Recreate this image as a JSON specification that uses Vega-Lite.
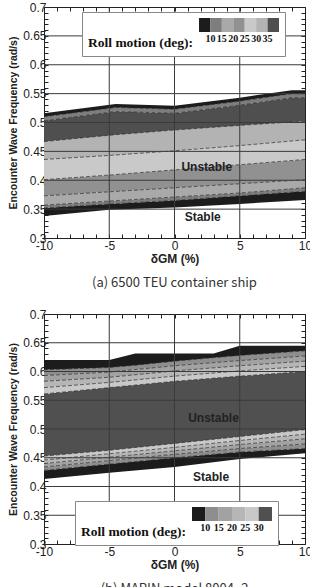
{
  "$schema": "https://vega.github.io/schema/vega-lite/v6.json",
  "padding": {"left": 8, "top": 1, "right": 0, "bottom": 0},
  "spacing": 18,
  "config": {
    "view": {"stroke": null},
    "axis": {"labelFont": "Liberation Sans", "labelFontSize": 12, "labelColor": "#222", "tickColor": "#222", "domainColor": "#222", "tickSize": -4, "grid": false, "zindex": 1, "labelFlush": false, "labelOverlap": false, "labelBound": false, "titleFont": "Liberation Sans", "titleFontWeight": "bold", "titleColor": "#222"},
    "legend": {"type": "gradient", "direction": "horizontal", "orient": "none", "titleOrient": "left", "titleAnchor": "start", "titleBaseline": "top", "titleLineHeight": 18, "titleFont": "Liberation Serif", "titleFontSize": 13.5, "titleFontWeight": "bold", "titleColor": "#111", "titlePadding": 6, "gradientLength": 80, "gradientThickness": 14, "gradientStrokeWidth": 0, "labelFont": "Liberation Serif", "labelFontSize": 10, "labelFontWeight": "bold", "labelColor": "#111", "labelOffset": 3, "padding": 6, "fillColor": "white", "strokeColor": "#888", "zindex": 2},
    "title": {"font": "Noto Sans CJK KR", "fontSize": 13, "fontWeight": "normal", "color": "#333", "orient": "bottom", "frame": "group", "offset": 13}
  },
  "resolve": {"scale": {"color": "independent"}, "legend": {"color": "independent"}},
  "datasets": {
    "bandA": [
      {"band": "a0", "roll": 5, "x": -10, "lo": 0.338, "hi": 0.352}, {"band": "a0", "roll": 5, "x": -5, "lo": 0.349, "hi": 0.359}, {"band": "a0", "roll": 5, "x": 0, "lo": 0.353, "hi": 0.365}, {"band": "a0", "roll": 5, "x": 5, "lo": 0.359, "hi": 0.373}, {"band": "a0", "roll": 5, "x": 10, "lo": 0.366, "hi": 0.381},
      {"band": "a1", "roll": 12, "x": -10, "lo": 0.352, "hi": 0.357}, {"band": "a1", "roll": 12, "x": -5, "lo": 0.359, "hi": 0.364}, {"band": "a1", "roll": 12, "x": 0, "lo": 0.365, "hi": 0.371}, {"band": "a1", "roll": 12, "x": 5, "lo": 0.373, "hi": 0.378}, {"band": "a1", "roll": 12, "x": 10, "lo": 0.381, "hi": 0.387},
      {"band": "a2", "roll": 17, "x": -10, "lo": 0.357, "hi": 0.373}, {"band": "a2", "roll": 17, "x": -5, "lo": 0.364, "hi": 0.380}, {"band": "a2", "roll": 17, "x": 0, "lo": 0.371, "hi": 0.387}, {"band": "a2", "roll": 17, "x": 5, "lo": 0.378, "hi": 0.394}, {"band": "a2", "roll": 17, "x": 10, "lo": 0.387, "hi": 0.401},
      {"band": "a3", "roll": 22, "x": -10, "lo": 0.373, "hi": 0.401}, {"band": "a3", "roll": 22, "x": -5, "lo": 0.380, "hi": 0.409}, {"band": "a3", "roll": 22, "x": 0, "lo": 0.387, "hi": 0.418}, {"band": "a3", "roll": 22, "x": 5, "lo": 0.394, "hi": 0.427}, {"band": "a3", "roll": 22, "x": 10, "lo": 0.401, "hi": 0.436},
      {"band": "a4", "roll": 27, "x": -10, "lo": 0.401, "hi": 0.436}, {"band": "a4", "roll": 27, "x": -5, "lo": 0.409, "hi": 0.443}, {"band": "a4", "roll": 27, "x": 0, "lo": 0.418, "hi": 0.451}, {"band": "a4", "roll": 27, "x": 5, "lo": 0.427, "hi": 0.460}, {"band": "a4", "roll": 27, "x": 10, "lo": 0.436, "hi": 0.470},
      {"band": "a5", "roll": 32, "x": -10, "lo": 0.436, "hi": 0.467}, {"band": "a5", "roll": 32, "x": -5, "lo": 0.443, "hi": 0.478}, {"band": "a5", "roll": 32, "x": 0, "lo": 0.451, "hi": 0.487}, {"band": "a5", "roll": 32, "x": 5, "lo": 0.460, "hi": 0.495}, {"band": "a5", "roll": 32, "x": 10, "lo": 0.470, "hi": 0.502},
      {"band": "a6", "roll": 40, "x": -10, "lo": 0.467, "hi": 0.503}, {"band": "a6", "roll": 40, "x": -4.5, "lo": 0.479, "hi": 0.519}, {"band": "a6", "roll": 40, "x": 0, "lo": 0.487, "hi": 0.516}, {"band": "a6", "roll": 40, "x": 5, "lo": 0.495, "hi": 0.530}, {"band": "a6", "roll": 40, "x": 9, "lo": 0.501, "hi": 0.543}, {"band": "a6", "roll": 40, "x": 10, "lo": 0.502, "hi": 0.543},
      {"band": "a7", "roll": 12, "x": -10, "lo": 0.503, "hi": 0.510}, {"band": "a7", "roll": 12, "x": -4.5, "lo": 0.519, "hi": 0.526}, {"band": "a7", "roll": 12, "x": 0, "lo": 0.516, "hi": 0.523}, {"band": "a7", "roll": 12, "x": 5, "lo": 0.530, "hi": 0.537}, {"band": "a7", "roll": 12, "x": 9, "lo": 0.543, "hi": 0.550}, {"band": "a7", "roll": 12, "x": 10, "lo": 0.543, "hi": 0.550},
      {"band": "a8", "roll": 5, "x": -10, "lo": 0.510, "hi": 0.516}, {"band": "a8", "roll": 5, "x": -4.5, "lo": 0.526, "hi": 0.532}, {"band": "a8", "roll": 5, "x": 0, "lo": 0.523, "hi": 0.529}, {"band": "a8", "roll": 5, "x": 5, "lo": 0.537, "hi": 0.543}, {"band": "a8", "roll": 5, "x": 9, "lo": 0.550, "hi": 0.556}, {"band": "a8", "roll": 5, "x": 10, "lo": 0.550, "hi": 0.556}
    ],
    "bandB": [
      {"band": "b0", "roll": 5, "x": -10, "lo": 0.413, "hi": 0.428}, {"band": "b0", "roll": 5, "x": -5, "lo": 0.424, "hi": 0.439}, {"band": "b0", "roll": 5, "x": 0, "lo": 0.434, "hi": 0.450}, {"band": "b0", "roll": 5, "x": 5, "lo": 0.448, "hi": 0.460}, {"band": "b0", "roll": 5, "x": 10, "lo": 0.458, "hi": 0.466},
      {"band": "b1", "roll": 12, "x": -10, "lo": 0.428, "hi": 0.434}, {"band": "b1", "roll": 12, "x": -5, "lo": 0.439, "hi": 0.445}, {"band": "b1", "roll": 12, "x": 0, "lo": 0.450, "hi": 0.456}, {"band": "b1", "roll": 12, "x": 5, "lo": 0.460, "hi": 0.466}, {"band": "b1", "roll": 12, "x": 10, "lo": 0.466, "hi": 0.474},
      {"band": "b2", "roll": 17, "x": -10, "lo": 0.434, "hi": 0.440}, {"band": "b2", "roll": 17, "x": -5, "lo": 0.445, "hi": 0.451}, {"band": "b2", "roll": 17, "x": 0, "lo": 0.456, "hi": 0.462}, {"band": "b2", "roll": 17, "x": 5, "lo": 0.466, "hi": 0.473}, {"band": "b2", "roll": 17, "x": 10, "lo": 0.474, "hi": 0.483},
      {"band": "b3", "roll": 22, "x": -10, "lo": 0.440, "hi": 0.446}, {"band": "b3", "roll": 22, "x": -5, "lo": 0.451, "hi": 0.457}, {"band": "b3", "roll": 22, "x": 0, "lo": 0.462, "hi": 0.468}, {"band": "b3", "roll": 22, "x": 5, "lo": 0.473, "hi": 0.480}, {"band": "b3", "roll": 22, "x": 10, "lo": 0.483, "hi": 0.491},
      {"band": "b4", "roll": 27, "x": -10, "lo": 0.446, "hi": 0.453}, {"band": "b4", "roll": 27, "x": -5, "lo": 0.457, "hi": 0.463}, {"band": "b4", "roll": 27, "x": 0, "lo": 0.468, "hi": 0.475}, {"band": "b4", "roll": 27, "x": 5, "lo": 0.480, "hi": 0.487}, {"band": "b4", "roll": 27, "x": 10, "lo": 0.491, "hi": 0.499},
      {"band": "b5", "roll": 40, "x": -10, "lo": 0.453, "hi": 0.561}, {"band": "b5", "roll": 40, "x": -5, "lo": 0.463, "hi": 0.572}, {"band": "b5", "roll": 40, "x": 0, "lo": 0.475, "hi": 0.583}, {"band": "b5", "roll": 40, "x": 5, "lo": 0.487, "hi": 0.592}, {"band": "b5", "roll": 40, "x": 10, "lo": 0.499, "hi": 0.600},
      {"band": "b6", "roll": 27, "x": -10, "lo": 0.561, "hi": 0.572}, {"band": "b6", "roll": 27, "x": -5, "lo": 0.572, "hi": 0.581}, {"band": "b6", "roll": 27, "x": 0, "lo": 0.583, "hi": 0.592}, {"band": "b6", "roll": 27, "x": 5, "lo": 0.592, "hi": 0.601}, {"band": "b6", "roll": 27, "x": 10, "lo": 0.600, "hi": 0.609},
      {"band": "b7", "roll": 22, "x": -10, "lo": 0.572, "hi": 0.583}, {"band": "b7", "roll": 22, "x": -5, "lo": 0.581, "hi": 0.590}, {"band": "b7", "roll": 22, "x": 0, "lo": 0.592, "hi": 0.601}, {"band": "b7", "roll": 22, "x": 5, "lo": 0.601, "hi": 0.610}, {"band": "b7", "roll": 22, "x": 10, "lo": 0.609, "hi": 0.618},
      {"band": "b8", "roll": 17, "x": -10, "lo": 0.583, "hi": 0.593}, {"band": "b8", "roll": 17, "x": -5, "lo": 0.590, "hi": 0.599}, {"band": "b8", "roll": 17, "x": 0, "lo": 0.601, "hi": 0.610}, {"band": "b8", "roll": 17, "x": 5, "lo": 0.610, "hi": 0.619}, {"band": "b8", "roll": 17, "x": 10, "lo": 0.618, "hi": 0.627},
      {"band": "b9", "roll": 12, "x": -10, "lo": 0.593, "hi": 0.603}, {"band": "b9", "roll": 12, "x": -5, "lo": 0.599, "hi": 0.607}, {"band": "b9", "roll": 12, "x": 0, "lo": 0.610, "hi": 0.618}, {"band": "b9", "roll": 12, "x": 5, "lo": 0.619, "hi": 0.628}, {"band": "b9", "roll": 12, "x": 10, "lo": 0.627, "hi": 0.636},
      {"band": "b10", "roll": 5, "x": -10, "lo": 0.603, "hi": 0.620}, {"band": "b10", "roll": 5, "x": -5, "lo": 0.607, "hi": 0.620}, {"band": "b10", "roll": 5, "x": -3, "lo": 0.611, "hi": 0.6315}, {"band": "b10", "roll": 5, "x": 0, "lo": 0.618, "hi": 0.6315}, {"band": "b10", "roll": 5, "x": 3, "lo": 0.624, "hi": 0.6315}, {"band": "b10", "roll": 5, "x": 5, "lo": 0.628, "hi": 0.645}, {"band": "b10", "roll": 5, "x": 10, "lo": 0.636, "hi": 0.645}
    ],
    "gridX": [{"g": -5}, {"g": 0}, {"g": 5}],
    "gridY": [{"g": 0.35}, {"g": 0.4}, {"g": 0.45}, {"g": 0.5}, {"g": 0.55}, {"g": 0.6}, {"g": 0.65}],
    "noteA": [{"label": "Unstable", "x": 2.47, "y": 0.423}, {"label": "Stable", "x": 2.16, "y": 0.3364}],
    "noteB": [{"label": "Unstable", "x": 2.99, "y": 0.5184}, {"label": "Stable", "x": 2.8, "y": 0.416}]
  },
  "vconcat": [
    {
      "width": 261, "height": 231,
      "title": {"text": "(a) 6500 TEU container ship"},
      "resolve": {"axis": {"x": "independent", "y": "independent"}},
      "layer": [
        {
          "data": {"name": "bandA"},
          "mark": {"type": "area", "opacity": 1},
          "encoding": {
            "x": {"field": "x", "type": "quantitative", "scale": {"domain": [-10, 10], "nice": false, "zero": false},
              "axis": {"orient": "bottom", "values": [-10,-9,-8,-7,-6,-5,-4,-3,-2,-1,0,1,2,3,4,5,6,7,8,9,10], "labelExpr": "datum.value % 5 == 0 ? '' + datum.value : ''", "labelPadding": 6, "title": "δGM (%)", "titleFontSize": 12, "titlePadding": 2}},
            "y": {"field": "lo", "type": "quantitative", "scale": {"domain": [0.3, 0.7], "nice": false, "zero": false},
              "axis": {"orient": "left", "values": [0.3,0.31,0.32,0.33,0.34,0.35,0.36,0.37,0.38,0.39,0.4,0.41,0.42,0.43,0.44,0.45,0.46,0.47,0.48,0.49,0.5,0.51,0.52,0.53,0.54,0.55,0.56,0.57,0.58,0.59,0.6,0.61,0.62,0.63,0.64,0.65,0.66,0.67,0.68,0.69,0.7], "labelExpr": "round(datum.value*100) % 5 == 0 ? '' + datum.value : ''", "labelPadding": 2, "title": "Encounter Wave Frequency (rad/s)", "titleFontSize": 10.5, "titlePadding": 4}},
            "y2": {"field": "hi"},
            "detail": {"field": "band"},
            "color": {"field": "roll", "type": "quantitative",
              "scale": {"type": "threshold", "domain": [10, 15, 20, 25, 30, 35], "range": ["#1c1c1c", "#7e7e7e", "#a9a9a9", "#919191", "#c9c9c9", "#b3b3b3", "#4f4f4f"]},
              "legend": {"title": ["", "Roll motion (deg):"], "legendX": 38, "legendY": 5}}
          }
        },
        {
          "data": {"name": "bandA"},
          "transform": [{"filter": "datum.band != 'a0'"}],
          "mark": {"type": "line", "color": "#2a2a2a", "strokeWidth": 0.7, "strokeDash": [4, 2]},
          "encoding": {
            "x": {"field": "x", "type": "quantitative", "axis": null},
            "y": {"field": "lo", "type": "quantitative", "axis": null},
            "detail": {"field": "band"}
          }
        },
        {
          "data": {"name": "gridX"},
          "mark": {"type": "rule", "color": "#3a3a3a", "strokeWidth": 1},
          "encoding": {
            "x": {"field": "g", "type": "quantitative",
              "axis": {"orient": "top", "values": [-10,-9,-8,-7,-6,-5,-4,-3,-2,-1,0,1,2,3,4,5,6,7,8,9,10], "labels": false, "title": null}}
          }
        },
        {
          "data": {"name": "gridY"},
          "mark": {"type": "rule", "color": "#3a3a3a", "strokeWidth": 1},
          "encoding": {
            "y": {"field": "g", "type": "quantitative",
              "axis": {"orient": "right", "values": [0.3,0.31,0.32,0.33,0.34,0.35,0.36,0.37,0.38,0.39,0.4,0.41,0.42,0.43,0.44,0.45,0.46,0.47,0.48,0.49,0.5,0.51,0.52,0.53,0.54,0.55,0.56,0.57,0.58,0.59,0.6,0.61,0.62,0.63,0.64,0.65,0.66,0.67,0.68,0.69,0.7], "labels": false, "title": null}}
          }
        },
        {
          "data": {"name": "noteA"},
          "mark": {"type": "text", "font": "Liberation Sans", "fontWeight": "bold", "fontSize": 12, "color": "#222"},
          "encoding": {
            "x": {"field": "x", "type": "quantitative", "axis": null},
            "y": {"field": "y", "type": "quantitative", "axis": null},
            "text": {"field": "label"}
          }
        }
      ]
    },
    {
      "width": 261, "height": 230,
      "title": {"text": "(b) MARIN model 8004_2"},
      "resolve": {"axis": {"x": "independent", "y": "independent"}},
      "layer": [
        {
          "data": {"name": "bandB"},
          "mark": {"type": "area", "opacity": 1},
          "encoding": {
            "x": {"field": "x", "type": "quantitative", "scale": {"domain": [-10, 10], "nice": false, "zero": false},
              "axis": {"orient": "bottom", "values": [-10,-9,-8,-7,-6,-5,-4,-3,-2,-1,0,1,2,3,4,5,6,7,8,9,10], "labelExpr": "datum.value % 5 == 0 ? '' + datum.value : ''", "labelPadding": 6, "title": "δGM (%)", "titleFontSize": 12, "titlePadding": 2}},
            "y": {"field": "lo", "type": "quantitative", "scale": {"domain": [0.3, 0.7], "nice": false, "zero": false},
              "axis": {"orient": "left", "values": [0.3,0.31,0.32,0.33,0.34,0.35,0.36,0.37,0.38,0.39,0.4,0.41,0.42,0.43,0.44,0.45,0.46,0.47,0.48,0.49,0.5,0.51,0.52,0.53,0.54,0.55,0.56,0.57,0.58,0.59,0.6,0.61,0.62,0.63,0.64,0.65,0.66,0.67,0.68,0.69,0.7], "labelExpr": "round(datum.value*100) % 5 == 0 ? '' + datum.value : ''", "labelPadding": 2, "title": "Encounter Wave Frequency (rad/s)", "titleFontSize": 10.5, "titlePadding": 4}},
            "y2": {"field": "hi"},
            "detail": {"field": "band"},
            "color": {"field": "roll", "type": "quantitative",
              "scale": {"type": "threshold", "domain": [10, 15, 20, 25, 30], "range": ["#1c1c1c", "#8e8e8e", "#a2a2a2", "#b6b6b6", "#c8c8c8", "#505050"]},
              "legend": {"title": ["", "Roll motion (deg):"], "legendX": 31, "legendY": 187}}
          }
        },
        {
          "data": {"name": "bandB"},
          "transform": [{"filter": "datum.band != 'b0'"}],
          "mark": {"type": "line", "color": "#2a2a2a", "strokeWidth": 0.7, "strokeDash": [4, 2]},
          "encoding": {
            "x": {"field": "x", "type": "quantitative", "axis": null},
            "y": {"field": "lo", "type": "quantitative", "axis": null},
            "detail": {"field": "band"}
          }
        },
        {
          "data": {"name": "gridX"},
          "mark": {"type": "rule", "color": "#3a3a3a", "strokeWidth": 1},
          "encoding": {
            "x": {"field": "g", "type": "quantitative",
              "axis": {"orient": "top", "values": [-10,-9,-8,-7,-6,-5,-4,-3,-2,-1,0,1,2,3,4,5,6,7,8,9,10], "labels": false, "title": null}}
          }
        },
        {
          "data": {"name": "gridY"},
          "mark": {"type": "rule", "color": "#3a3a3a", "strokeWidth": 1},
          "encoding": {
            "y": {"field": "g", "type": "quantitative",
              "axis": {"orient": "right", "values": [0.3,0.31,0.32,0.33,0.34,0.35,0.36,0.37,0.38,0.39,0.4,0.41,0.42,0.43,0.44,0.45,0.46,0.47,0.48,0.49,0.5,0.51,0.52,0.53,0.54,0.55,0.56,0.57,0.58,0.59,0.6,0.61,0.62,0.63,0.64,0.65,0.66,0.67,0.68,0.69,0.7], "labels": false, "title": null}}
          }
        },
        {
          "data": {"name": "noteB"},
          "mark": {"type": "text", "font": "Liberation Sans", "fontWeight": "bold", "fontSize": 12, "color": "#222"},
          "encoding": {
            "x": {"field": "x", "type": "quantitative", "axis": null},
            "y": {"field": "y", "type": "quantitative", "axis": null},
            "text": {"field": "label"}
          }
        }
      ]
    }
  ]
}
